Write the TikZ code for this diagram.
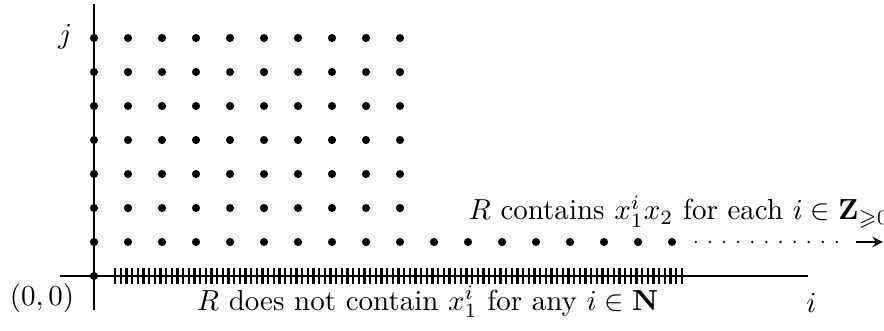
\documentclass[tikz,border=0pt]{standalone}
\usepackage{amssymb}
\begin{document}
\begin{tikzpicture}[x=11.72pt,y=11.72pt,
  axis/.style={line width=0.9pt},
  tickmark/.style={line width=0.75pt},
  lbl/.style={inner sep=0pt}]
\useasboundingbox (-2.765,-1.588) rectangle (23.235,8.118);
\coordinate (xl) at (-1,0); \coordinate (xr) at (21,0);
\coordinate (yb) at (0,-1); \coordinate (yt) at (0,8);
\draw[axis] (xl) -- (xr);
\draw[axis] (yb) -- (yt);
\foreach \t in {0,...,100} \draw[tickmark] ({0.62+\t/6},-0.24) -- ++(0,0.48);
\foreach \j in {0,...,7} \fill (0,\j) circle (1.4pt);
\foreach \i in {1,...,9} \foreach \j in {1,...,7} \fill (\i,\j) circle (1.4pt);
\foreach \i in {10,...,17} \fill (\i,1) circle (1.4pt);
\foreach \k in {0,...,10} \fill ({17.7+0.415*\k},1) circle (0.45pt);
\coordinate (as) at (22.4,1); \coordinate (ae) at (23.2,1);
\draw[-stealth, line width=0.6pt] (as) -- (ae);
\node[lbl] (j) at (-0.85,7.05) {$j$};
\node[lbl] (i) at (21.1,-0.8) {$i$};
\node[lbl] (o) at (-1.53,-0.65) {$(0,0)$};
\node[lbl,anchor=base] (bot) at (9.81,-1.0) {$R$ does not contain $x_1^i$ for any $i\in\mathbf{N}$};
\node[lbl,anchor=base west] (top) at (11.0,1.65) {$R$ contains $x_1^ix_2$ for each $i\in\mathbf{Z}_{\geqslant0}$};
\end{tikzpicture}
\end{document}
